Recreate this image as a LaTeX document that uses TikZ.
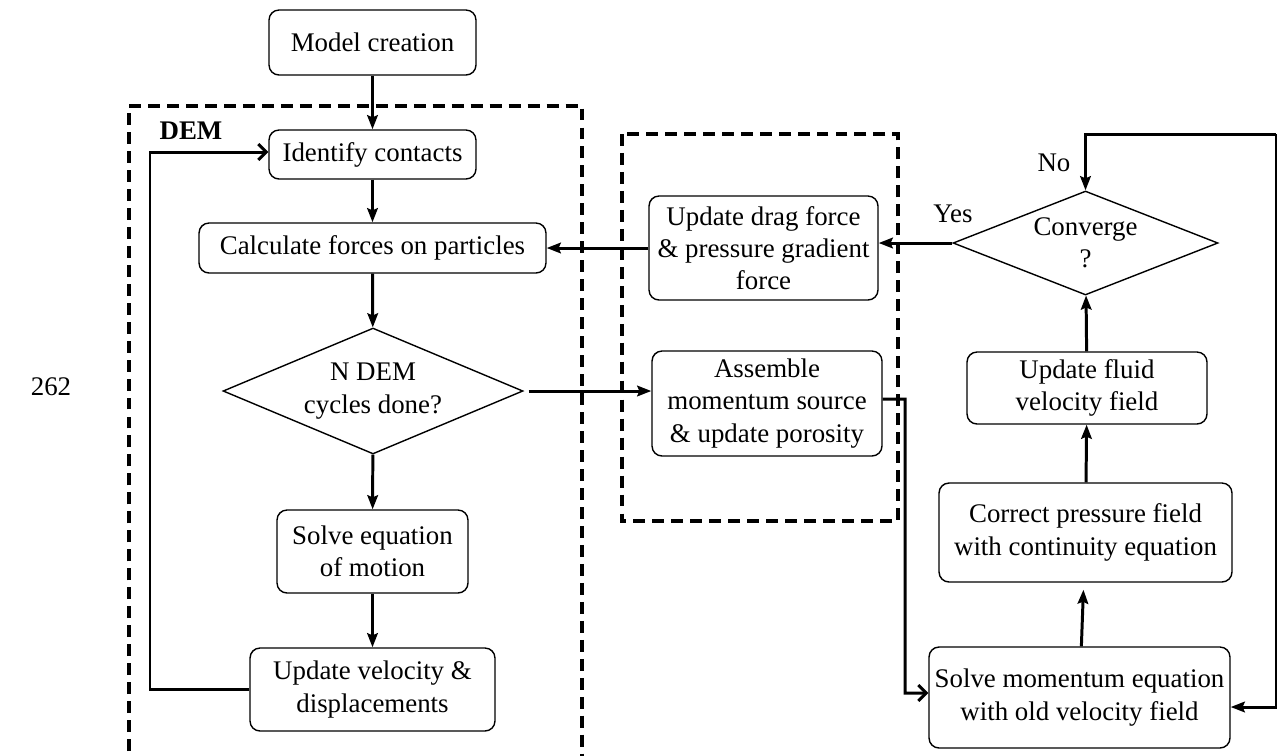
\documentclass[tikz,border=0pt]{standalone}
\usepackage{fontspec}
\setmainfont{Liberation Serif}
\usetikzlibrary{shapes.geometric,arrows.meta}
\tikzset{
  fs/.style={font=\fontsize{15.3}{18.4}\selectfont},
  box/.style={draw, line width=0.8pt, rounded corners=0.2cm, align=center, inner sep=0pt, fs},
  dia/.style={draw, diamond, line width=0.8pt, align=center, inner sep=0pt, fs},
  conn/.style={line width=1.7pt, -{Stealth[length=8pt,width=6pt,inset=1.2pt]}},
  oconn/.style={line width=1.7pt, -{Straight Barb[length=4.5pt,width=9pt]}},
  dashbox/.style={line width=1.9pt, dash pattern=on 6.8pt off 4pt},
  lbl/.style={fs, inner sep=0pt}
}
\begin{document}
\begin{tikzpicture}[x=0.02cm,y=-0.02cm]
\useasboundingbox (0,0) rectangle (1277,755);
\clip (0,0) rectangle (1277,755);
% dashed groups
\draw[dashbox] (129,770) -- (129,106) -- (582,106) -- (582,770);
\draw[dashbox] (622,134) rectangle (898,521);
\node[lbl, font=\fontsize{15.3}{18.4}\selectfont\bfseries] (demlbl) at (191,131) {DEM};
\node[lbl] (num) at (51,387) {262};
% DEM column
\node[box, minimum width=4.14cm, minimum height=1.30cm] (model) at (372.5,42.5) {Model creation};
\node[box, minimum width=4.14cm, minimum height=0.98cm] (ident) at (372.5,154.5) {Identify contacts};
\node[box, minimum width=6.94cm, minimum height=1.00cm] (calc) at (372.5,248) {Calculate forces on particles};
\node[dia, aspect=2.38, minimum width=6.00cm, minimum height=2.52cm] (ndem) at (373,391) {N DEM\\cycles done?};
\node[box, minimum width=3.82cm, minimum height=1.66cm] (solve) at (372.5,551.5) {Solve equation\\of motion};
\node[box, minimum width=4.90cm, minimum height=1.66cm] (updvel) at (372.5,689.5) {Update velocity \&\\displacements};
% coupling
\node[box, minimum width=4.58cm, minimum height=2.08cm] (drag) at (763.5,248) {Update drag force\\\& pressure gradient\\force};
\node[box, minimum width=4.60cm, minimum height=2.10cm] (asm) at (767,403.5) {Assemble\\momentum source\\\& update porosity};
% CFD column
\node[dia, aspect=2.55, minimum width=5.30cm, minimum height=2.08cm] (conv) at (1085.5,243) {Converge\\?};
\node[box, minimum width=4.80cm, minimum height=1.44cm] (updfl) at (1087,388) {Update fluid\\velocity field};
\node[box, minimum width=5.86cm, minimum height=1.98cm] (corr) at (1085.5,532.5) {Correct pressure field\\with continuity equation};
\node[box, minimum width=6.02cm, minimum height=2.02cm] (solvem) at (1079.5,697.5) {Solve momentum equation\\with old velocity field};
\node[lbl] (yes) at (953,214) {Yes};
\node[lbl] (no) at (1054,163) {No};
% connectors DEM
\draw[conn] (model) -- (ident);
\draw[conn] (ident) -- (calc);
\draw[conn] (calc) -- (ndem);
\draw[conn] (ndem) -- (solve);
\draw[conn] (solve) -- (updvel);
\coordinate (loopc) at (150,689.5);
\draw[oconn] (updvel.west) -- (loopc) |- ([yshift=0.05cm]ident.west);
\draw[conn, shorten <=0.1cm] (ndem.east) -- (ndem.east -| asm.west);
\draw[conn] (drag.west) -- (calc.east);
\draw[conn] (conv.west) -- (conv.west -| drag.east);
% asm to solve momentum
\coordinate (asmx) at (905,399);
\draw[oconn] ([yshift=0.09cm]asm.east) -- (asmx) |- ([yshift=0.09cm]solvem.west);
% CFD connectors
\draw[conn] (updfl) -- (conv);
\draw[conn] (corr) -- (updfl);
\draw[conn, shorten >=0.14cm] (solvem) -- (corr);
\coordinate (rt) at (1276,134);
\coordinate (rb) at (1276,707);
\draw[conn] (rt) -- (rt -| conv.north) -- (conv.north);
\draw[conn] (rt) -- (rb) -- (rb -| solvem.east);
\end{tikzpicture}
\end{document}
